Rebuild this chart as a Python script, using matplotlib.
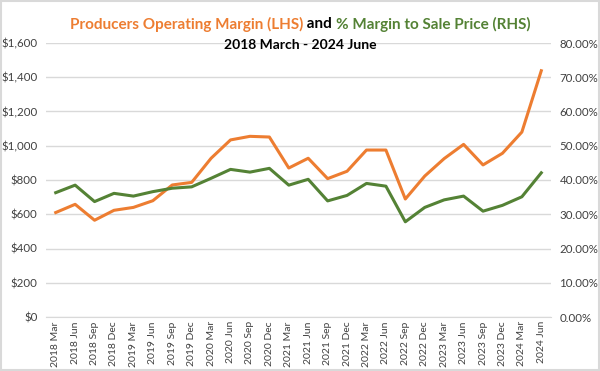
import matplotlib
matplotlib.use("Agg")
import matplotlib.pyplot as plt
from matplotlib.ticker import FuncFormatter
from matplotlib.patches import Rectangle

# quarterly periods
periods = ["2018 Mar", "2018 Jun", "2018 Sep", "2018 Dec",
           "2019 Mar", "2019 Jun", "2019 Sep", "2019 Dec",
           "2020 Mar", "2020 Jun", "2020 Sep", "2020 Dec",
           "2021 Mar", "2021 Jun", "2021 Sep", "2021 Dec",
           "2022 Mar", "2022 Jun", "2022 Sep", "2022 Dec",
           "2023 Mar", "2023 Jun", "2023 Sep", "2023 Dec",
           "2024 Mar", "2024 Jun"]

# operating margin, $ (left axis)
operating_margin = [610, 658, 565, 623, 640, 679, 771, 786,
                    927, 1034, 1055, 1051, 870, 927, 808, 851,
                    975, 975, 689, 823, 925, 1008, 888, 956,
                    1080, 1438]

# margin to sale price, % (right axis)
margin_pct = [36.3, 38.5, 33.7, 36.1, 35.3, 36.6, 37.6, 38.0,
              40.5, 43.1, 42.3, 43.4, 38.5, 40.2, 33.9, 35.5,
              39.0, 38.2, 27.8, 32.0, 34.2, 35.3, 30.9, 32.6,
              35.1, 42.1]

orange = "#ED7D31"
green = "#548235"
txt = "#404040"
plt.rcParams["font.family"] = ["Lato", "DejaVu Sans"]

fig = plt.figure(figsize=(6, 3.71), dpi=100)
ax = fig.add_axes([46/600, 1-317/371, 505/600, 274/371])
ax2 = ax.twinx()

x = list(range(len(periods)))
ax.plot(x, operating_margin, color=orange, lw=2.2, zorder=3)
ax2.plot(x, margin_pct, color=green, lw=2.2, zorder=3)

ax.set_ylim(0, 1600)
ax.set_yticks(range(0, 1601, 200))
ax.yaxis.set_major_formatter(FuncFormatter(lambda v, p: "${:,.0f}".format(v)))
ax2.set_ylim(0, 80)
ax2.set_yticks(range(0, 81, 10))
ax2.yaxis.set_major_formatter(FuncFormatter(lambda v, p: "{:.2f}%".format(v)))

ax.set_xlim(-0.5, len(periods) - 0.5)
ax.set_xticks(x)
ax.set_xticklabels(periods, rotation=90, fontsize=7.5, color=txt)

ax.grid(axis="y", color="#D9D9D9", lw=1)
ax.set_axisbelow(True)
for a in (ax, ax2):
    for s in a.spines.values():
        s.set_visible(False)
    a.tick_params(length=0, labelsize=8.3, labelcolor=txt)
ax.tick_params(axis="x", labelsize=7.5, pad=3)
ax.spines["bottom"].set_visible(True)
ax.spines["bottom"].set_color("#D9D9D9")
ax.tick_params(axis="y", pad=6)
ax2.tick_params(axis="y", pad=6)

# two-coloured title line, pieces laid out side by side and centred
pieces = [("Producers Operating Margin (LHS)", orange),
          (" and ", "black"),
          ("% Margin to Sale Price (RHS)", green)]
renderer = fig.canvas.get_renderer()
texts = [fig.text(0, 0.935, s, color=c, fontsize=11, fontweight="bold",
                  ha="left", va="center") for s, c in pieces]
widths = [t.get_window_extent(renderer).width / fig.bbox.width for t in texts]
pos = 0.5 - sum(widths) / 2
for t, w in zip(texts, widths):
    t.set_x(pos)
    pos += w
fig.text(0.5, 0.878, "2018 March - 2024 June", color="black",
         fontsize=10, fontweight="bold", ha="center", va="center")

fig.patches.append(Rectangle((0.002, 0.003), 0.996, 0.994, transform=fig.transFigure,
                             fill=False, edgecolor="#D9D9D9", lw=1.5))

fig.savefig("out.png", dpi=100)
